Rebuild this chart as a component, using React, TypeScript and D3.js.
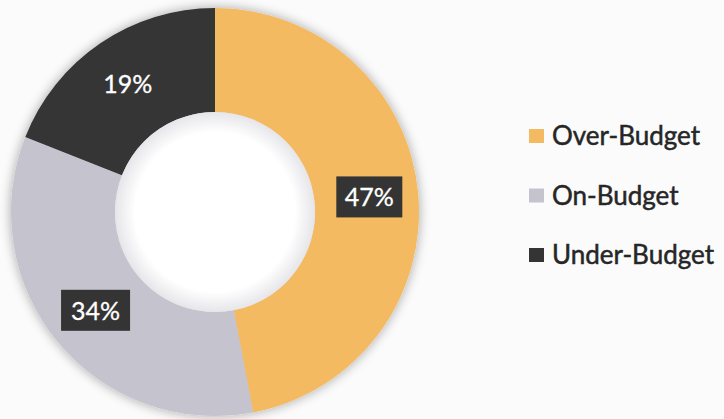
import React from "react";
import * as d3 from "d3";

const categories = ["Over-Budget", "On-Budget", "Under-Budget"];
const values = [47, 34, 19];
const labels = ["47%", "34%", "19%"];
const colors = ["#F3BA62", "#C5C3CD", "#343434"];

const W = 724;
const H = 419;
const cx = 215;
const cy = 212;
const outerR = 204;
const innerR = 100;

export default function App() {
  const pie = d3.pie<number>().sort(null).value((d) => d)(values);
  const arc = d3.arc<d3.PieArcDatum<number>>().innerRadius(innerR).outerRadius(outerR);
  const labelArc = d3.arc<d3.PieArcDatum<number>>().innerRadius(155).outerRadius(155);
  const font = "Lato, 'Open Sans', sans-serif";
  return (
    <svg width={W} height={H} style={{ position: "absolute", left: 0, top: 0, background: "#fbfbfb" }}>
      <defs>
        <filter id="glow" x="-20%" y="-20%" width="140%" height="140%">
          <feGaussianBlur in="SourceAlpha" stdDeviation="6" />
          <feComponentTransfer>
            <feFuncA type="linear" slope="0.35" />
          </feComponentTransfer>
          <feMerge>
            <feMergeNode />
            <feMergeNode in="SourceGraphic" />
          </feMerge>
        </filter>
        <radialGradient id="hole" cx="50%" cy="50%" r="50%">
          <stop offset="80%" stopColor="#ffffff" />
          <stop offset="100%" stopColor="#e6e6ea" />
        </radialGradient>
      </defs>
      <g transform={`translate(${cx},${cy})`}>
        <g filter="url(#glow)">
          {pie.map((p, i) => (
            <path key={i} d={arc(p) || ""} fill={colors[i]} />
          ))}
        </g>
        <circle r={innerR} fill="url(#hole)" />
        {pie.map((p, i) => {
          const [x, y] = labelArc.centroid(p);
          const boxed = i !== 2;
          const bw = i === 0 ? 66 : 69;
          return (
            <g key={"l" + i} transform={`translate(${x},${y})`}>
              {boxed && <rect x={-bw / 2} y={-21} width={bw} height={41} fill="#343434" />}
              <text
                textAnchor="middle"
                dy="0.36em"
                fill="#ffffff"
                stroke="#ffffff"
                strokeWidth={0.3}
                fontFamily={font}
                fontSize={25}
              >
                {labels[i]}
              </text>
            </g>
          );
        })}
      </g>
      <g>
        {categories.map((c, i) => (
          <g key={c} transform={`translate(529,${136 + i * 59.5})`}>
            <rect x={0} y={-7} width={15} height={14} fill={colors[i]} />
            <text
              x={23}
              dy="0.36em"
              fontFamily={font}
              fontSize={26}
              fill="#262626"
              stroke="#262626"
              strokeWidth={0.5}
            >
              {c}
            </text>
          </g>
        ))}
      </g>
    </svg>
  );
}
